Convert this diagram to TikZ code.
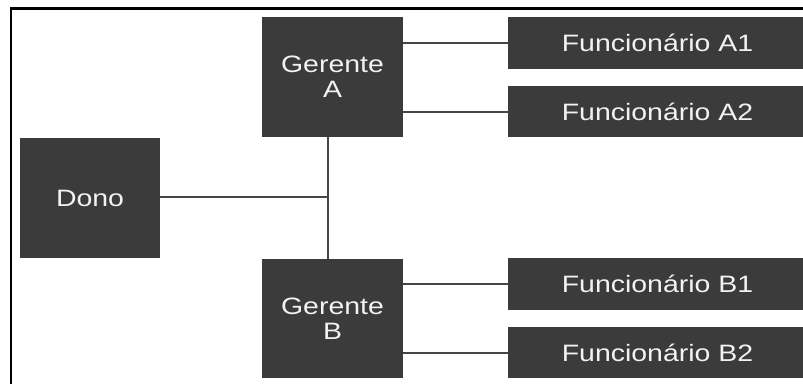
\documentclass[tikz,border=0pt]{standalone}
\usepackage{fontspec}
\setmainfont[FakeStretch=1.2]{Liberation Sans}
\definecolor{caixacor}{HTML}{3B3B3B}
\definecolor{linhacor}{HTML}{454545}
\definecolor{textocor}{HTML}{F2F2F2}

\begin{document}
\begin{tikzpicture}[x=1pt,y=-1pt,
    caixa/.style={draw=none,fill=caixacor,text=textocor,align=center,
        inner sep=0pt,font=\fontsize{23.7}{25}\selectfont},
    liga/.style={draw=linhacor,line width=2pt}]

    \useasboundingbox (0,0) rectangle (803,383);

    % moldura
    \draw [line width=2.5pt] (11,392) -- (11,8.5) -- (812,8.5);

    \coordinate (juncao) at (328,197);

    \node[caixa,minimum width=140pt,minimum height=120pt] (dono) at (90,198) {Dono};
    \node[caixa,minimum width=141pt,minimum height=120pt] (gerenteA) at (332.5,77) {Gerente\\A};
    \node[caixa,minimum width=141pt,minimum height=119pt] (gerenteB) at (332.5,318.5) {Gerente\\B};

    \node[caixa,minimum width=299pt,minimum height=52pt] (funcA1) at (657.5,43) {Funcionário A1};
    \node[caixa,minimum width=299pt,minimum height=51pt] (funcA2) at (657.5,111.5) {Funcionário A2};
    \node[caixa,minimum width=299pt,minimum height=52pt] (funcB1) at (657.5,284) {Funcionário B1};
    \node[caixa,minimum width=299pt,minimum height=51pt] (funcB2) at (657.5,352.5) {Funcionário B2};

    \draw [liga] (dono.east |- juncao) -- (juncao);
    \draw [liga] (gerenteA.south -| juncao) -- (gerenteB.north -| juncao);

    \draw [liga] (funcA1.west -| gerenteA.east) -- (funcA1.west);
    \draw [liga] (funcA2.west -| gerenteA.east) -- (funcA2.west);
    \draw [liga] (funcB1.west -| gerenteB.east) -- (funcB1.west);
    \draw [liga] (funcB2.west -| gerenteB.east) -- (funcB2.west);
  \end{tikzpicture}
\end{document}
